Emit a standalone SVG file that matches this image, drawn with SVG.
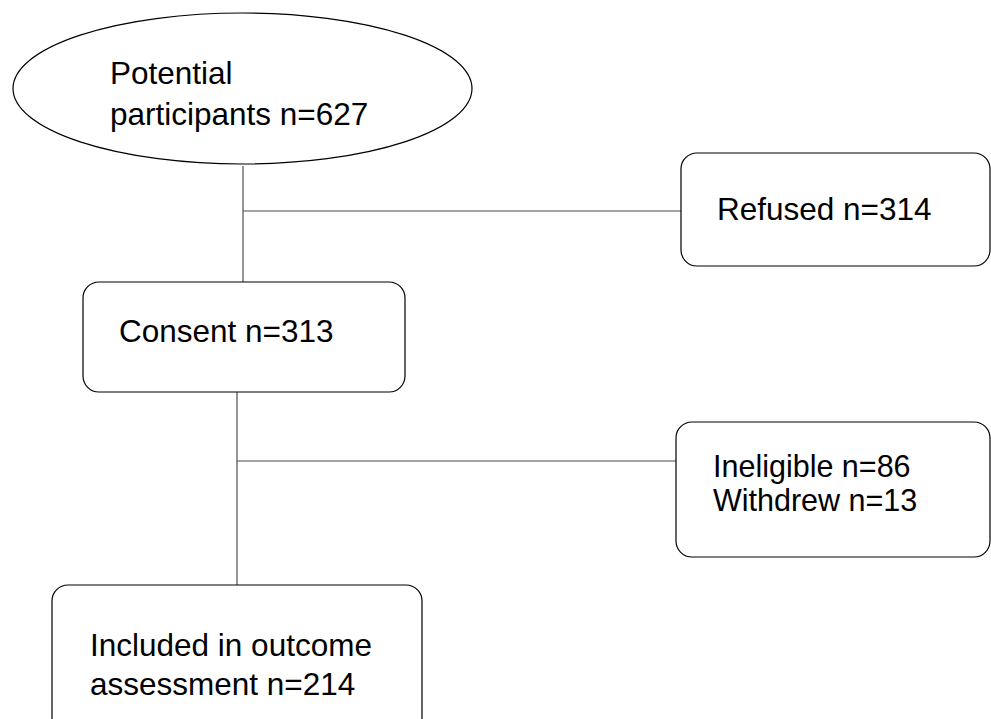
<svg xmlns="http://www.w3.org/2000/svg" width="991" height="719" viewBox="0 0 991 719">
<style>
.shape{fill:#fff;stroke:#000;stroke-width:1.2}
.conn{fill:none;stroke:#4d4d4d;stroke-width:1.2}
.t{font-family:"Liberation Sans",Arial,sans-serif;font-size:31.5px;fill:#000}
.s{font-size:30.5px}
</style>
<rect width="991" height="719" fill="#fff"/>
<g id="connectors">
<line class="conn" x1="243" y1="166" x2="243" y2="282"/>
<line class="conn" x1="243" y1="211" x2="681" y2="211"/>
<line class="conn" x1="237" y1="392" x2="237" y2="585"/>
<line class="conn" x1="237" y1="461" x2="676" y2="461"/>
</g>
<g id="potential">
<ellipse class="shape" cx="242.5" cy="88.5" rx="229.5" ry="75.5"/>
<text class="t" x="110" y="84">Potential</text>
<text class="t" x="110" y="125">participants n=627</text>
</g>
<g id="refused">
<rect class="shape" x="681" y="153" width="309" height="113" rx="16"/>
<text class="t" x="717" y="220">Refused n=314</text>
</g>
<g id="consent">
<rect class="shape" x="83" y="282" width="322" height="110" rx="16"/>
<text class="t" x="119" y="342">Consent n=313</text>
</g>
<g id="ineligible">
<rect class="shape" x="676" y="422" width="314" height="135" rx="16"/>
<text class="t s" x="713" y="477">Ineligible n=86</text>
<text class="t s" x="713" y="511">Withdrew n=13</text>
</g>
<g id="included">
<rect class="shape" x="52" y="585" width="370" height="150" rx="16"/>
<text class="t" x="90" y="656">Included in outcome</text>
<text class="t" x="90" y="695">assessment n=214</text>
</g>
</svg>
